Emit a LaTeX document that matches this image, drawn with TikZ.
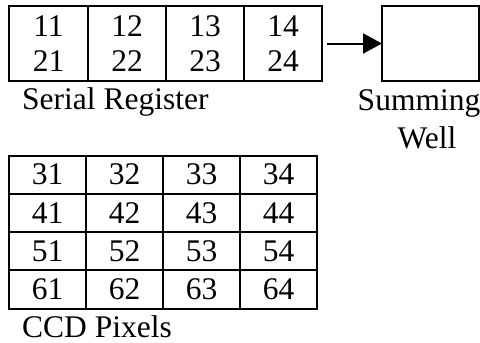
\documentclass[tikz,border=0pt]{standalone}
\usepackage{fontspec}
\setmainfont{Liberation Serif}
\usetikzlibrary{arrows.meta}
\begin{document}
\begin{tikzpicture}[x=1pt,y=-1pt,
  txt/.style={font=\fontsize{31.5}{35}\selectfont},
  cell/.style={txt, draw, line width=2pt, rectangle, inner sep=0pt, outer sep=0pt,
    minimum width=78pt, minimum height=75pt, align=center},
  pix/.style={txt, draw, line width=2pt, rectangle, inner sep=0pt, outer sep=0pt,
    minimum width=77pt, minimum height=38.25pt},
  lbl/.style={txt, inner sep=0pt}]
\useasboundingbox (0,0) rectangle (480,343);
% serial register
\node[cell, minimum width=79pt] (r1) at (48.5,43.5) {11\\21};
\node[cell] (r2) at (127,43.5) {12\\22};
\node[cell] (r3) at (205,43.5) {13\\23};
\node[cell] (r4) at (283,43.5) {14\\24};
% summing well
\node[cell, minimum width=97pt] (well) at (430.5,43.5) {};
\draw[line width=2pt, -{Triangle[length=19pt,width=20pt]}, shorten <=5pt] (r4.east) -- (well.west);
% CCD pixels
\foreach \r [count=\i from 0] in {3,4,5,6}{
  \foreach \c [count=\j from 0] in {1,2,3,4}{
    \node[pix] (p\r\c) at ({47.5+77*\j},{174.625+38.25*\i}) {\r\c};
  }
}
% labels
\node[lbl, anchor=base west] (serlbl) at (22,109) {Serial Register};
\node[lbl, anchor=base] (sumlbl) at (419,110) {Summing};
\node[lbl, anchor=base] (welllbl) at (427,148) {Well};
\node[lbl, anchor=base west] (ccdlbl) at (22,337) {CCD Pixels};
\end{tikzpicture}
\end{document}
